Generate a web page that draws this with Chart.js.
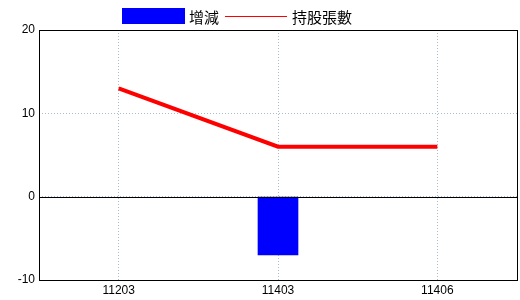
<!DOCTYPE html>
<html>
<head>
<meta charset="utf-8">
<script src="https://cdn.jsdelivr.net/npm/chart.js@4"></script>
<style>
  html, body { margin: 0; padding: 0; background: #fff; }
  #wrap { width: 520px; height: 300px; }
</style>
</head>
<body>
<div id="wrap"><canvas id="chart"></canvas></div>
<script>
const periods = ['11203', '11403', '11406'];
const changeValues = [null, -7, null];
const holdingValues = [13, 6, 6];
const seriesNames = ['增減', '持股張數'];
const yTicks = [-10, 0, 10, 20];

const TICK_FONT = { family: "'Liberation Sans Narrow', 'Liberation Sans', sans-serif", size: 12 };
const LEGEND_FONT = "15px 'Noto Sans CJK TC', sans-serif";

// frame round the plot area + solid zero line
const framePlugin = {
  id: 'frame',
  afterDatasetsDraw(chart) {
    const { ctx, chartArea: a, scales } = chart;
    const y0 = Math.round(scales.y.getPixelForValue(0)) + 0.5;
    ctx.save();
    ctx.strokeStyle = '#000';
    ctx.lineWidth = 1;
    ctx.beginPath();
    ctx.moveTo(a.left, y0);
    ctx.lineTo(a.right, y0);
    ctx.stroke();
    ctx.strokeRect(Math.round(a.left) + 0.5, Math.round(a.top) + 0.5,
      Math.round(a.right - a.left), Math.round(a.bottom - a.top));
    ctx.restore();
  },
};

// legend drawn by hand so it can sit off-centre like the original
const legendPlugin = {
  id: 'manualLegend',
  afterDraw(chart) {
    const { ctx } = chart;
    const ds = chart.data.datasets;
    let x = 122;
    const y = 16;
    ctx.save();
    ctx.font = LEGEND_FONT;
    ctx.textBaseline = 'middle';
    ds.forEach(d => {
      if (d.type === 'line') {
        ctx.strokeStyle = d.borderColor;
        ctx.lineWidth = 1;
        ctx.beginPath();
        ctx.moveTo(x, y + 0.5);
        ctx.lineTo(x + 62, y + 0.5);
        ctx.stroke();
      } else {
        ctx.fillStyle = d.backgroundColor;
        ctx.fillRect(x, 8, 63, 16);
      }
      x += 67;
      ctx.fillStyle = '#000';
      ctx.fillText(d.label, x, y + 1);
      x += ctx.measureText(d.label).width + 6;
    });
    ctx.restore();
  },
};

new Chart(document.getElementById('chart'), {
  data: {
    labels: periods,
    datasets: [
      {
        type: 'bar',
        label: seriesNames[0],
        data: changeValues,
        backgroundColor: '#0000ff',
        borderWidth: 0,
        barThickness: 40,
        order: 1,
      },
      {
        type: 'line',
        label: seriesNames[1],
        data: holdingValues,
        borderColor: '#ff0000',
        borderWidth: 4,
        pointRadius: 0,
        tension: 0,
        order: 0,
      },
    ],
  },
  options: {
    responsive: true,
    maintainAspectRatio: false,
    animation: false,
    layout: { padding: { top: 30, right: 3, left: 0, bottom: 0 } },
    plugins: { legend: { display: false }, tooltip: { enabled: false } },
    scales: {
      x: {
        offset: true,
        grid: { offset: false, color: '#a9bccf', drawTicks: false },
        border: { display: false, dash: [1, 2] },
        ticks: { color: '#000', font: TICK_FONT, padding: 3, maxRotation: 0 },
        afterFit(s) { s.height = 20; },
      },
      y: {
        min: yTicks[0],
        max: yTicks[yTicks.length - 1],
        grid: { color: '#a9bccf', drawTicks: false },
        border: { display: false, dash: [1, 2] },
        ticks: { color: '#000', font: TICK_FONT, stepSize: 10, padding: 4 },
        afterFit(s) { s.width = 39; },
      },
    },
  },
  plugins: [framePlugin, legendPlugin],
});
</script>
</body>
</html>
